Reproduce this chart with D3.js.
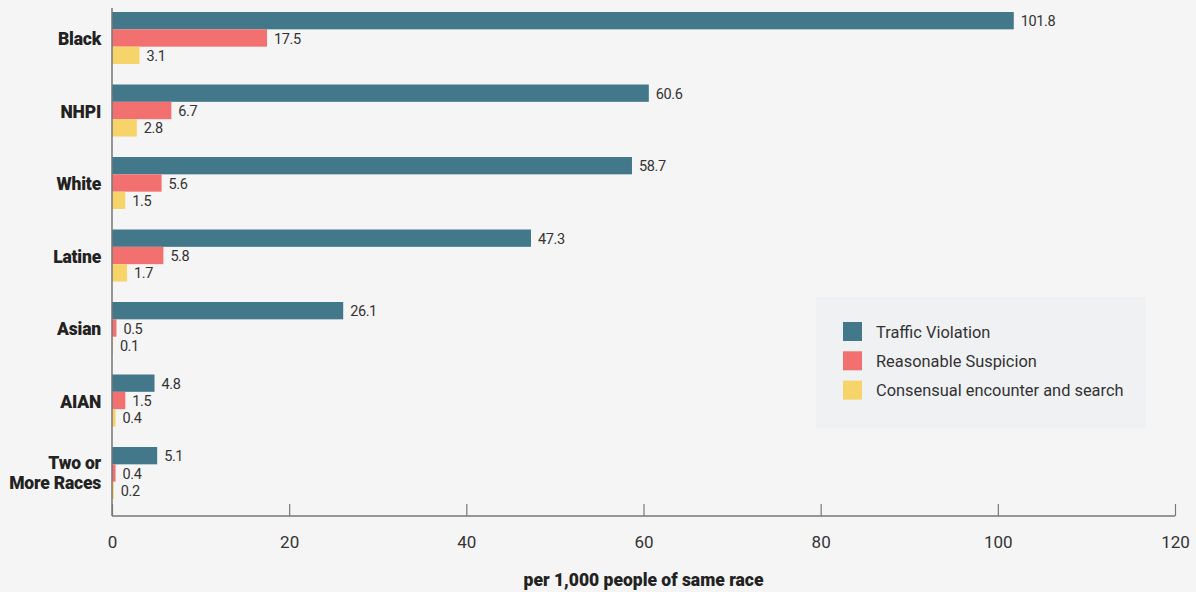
<!DOCTYPE html>
<html><head><meta charset="utf-8">
<script src="https://cdn.jsdelivr.net/npm/d3@7"></script>
<style>
body{margin:0;background:#f5f5f5;}
svg{display:block;font-family:Roboto, "Liberation Sans", sans-serif;}
</style></head>
<body>
<svg id="c" width="1196" height="592"></svg>
<script>
const categories = ["Black","NHPI","White","Latine","Asian","AIAN","Two or More Races"];
const seriesNames = ["Traffic Violation","Reasonable Suspicion","Consensual encounter and search"];
const trafficViolation = [101.8,60.6,58.7,47.3,26.1,4.8,5.1];
const reasonableSuspicion = [17.5,6.7,5.6,5.8,0.5,1.5,0.4];
const consensualSearch = [3.1,2.8,1.5,1.7,0.1,0.4,0.2];
const xTicks = [0,20,40,60,80,100,120];
const colors = ["#43788a","#f27070","#f6d469"];

const series = [trafficViolation, reasonableSuspicion, consensualSearch];
const svg = d3.select("#c");
svg.append("rect").attr("width",1196).attr("height",592).attr("fill","#f5f5f5");

const x = d3.scaleLinear().domain([0,120]).range([112,1175]);
const y = d3.scaleBand().domain(categories).range([1.75,509.25]).paddingInner(20.5/72.5).paddingOuter(20.5/72.5/2);
const yInner = d3.scaleBand().domain(d3.range(3)).range([0,y.bandwidth()]);

// legend
const lg = svg.append("g");
lg.append("rect").attr("x",816).attr("y",297).attr("width",330).attr("height",131).attr("fill","#f0f1f3");
seriesNames.forEach((s,i)=>{
  lg.append("rect").attr("x",843).attr("y",322+i*29.3).attr("width",19).attr("height",19).attr("fill",colors[i]);
  lg.append("text").attr("x",876).attr("y",332+i*29.3).attr("dy","0.35em")
    .attr("font-size",16.4).attr("fill","#333").text(s);
});

// bars
categories.forEach((c,ci)=>{
  series.forEach((arr,si)=>{
    const v = arr[ci];
    const yy = y(c)+yInner(si);
    svg.append("rect").attr("x",x(0)).attr("y",yy).attr("width",x(v)-x(0)).attr("height",yInner.bandwidth()).attr("fill",colors[si]);
    svg.append("text").attr("x",x(v)+7).attr("y",yy+yInner.bandwidth()/2+0.5).attr("dy","0.35em")
      .attr("font-size",14.5).attr("fill","#333").attr("letter-spacing","-0.4").text(v);
  });
});

// category labels
categories.forEach(c=>{
  const t = svg.append("text").attr("text-anchor","end").attr("font-weight","900").attr("font-size",17.5).attr("fill","#222").attr("letter-spacing","-0.2");
  const cy = y(c)+y.bandwidth()/2 + 1;
  if(c==="Two or More Races"){
    t.append("tspan").attr("x",101).attr("y",cy-11).attr("dy","0.35em").text("Two or");
    t.append("tspan").attr("x",101).attr("y",cy+9).attr("dy","0.35em").text("More Races");
  } else {
    t.attr("x",101).attr("y",cy).attr("dy","0.35em").text(c);
  }
});

// axes
const xAxis = d3.axisBottom(x).tickValues(xTicks).tickSize(-12).tickPadding(20).tickFormat(d3.format("d"));
const ax = svg.append("g").attr("transform","translate(0,516)").call(xAxis);
ax.select(".domain").attr("stroke","#777").attr("stroke-width",1.5).attr("d","M112,0H1175");
ax.selectAll(".tick line").attr("stroke","#777").attr("stroke-width",1.2);
ax.selectAll(".tick text").attr("font-size",17).attr("fill","#333").attr("font-family","Roboto, sans-serif");
svg.append("line").attr("x1",112).attr("x2",112).attr("y1",8).attr("y2",516).attr("stroke","#777").attr("stroke-width",1.5);

svg.append("text").attr("x",643.5).attr("y",580).attr("dy","0.35em").attr("text-anchor","middle")
  .attr("font-weight","900").attr("font-size",17.5).attr("fill","#222").text("per 1,000 people of same race");
</script>
</body></html>
